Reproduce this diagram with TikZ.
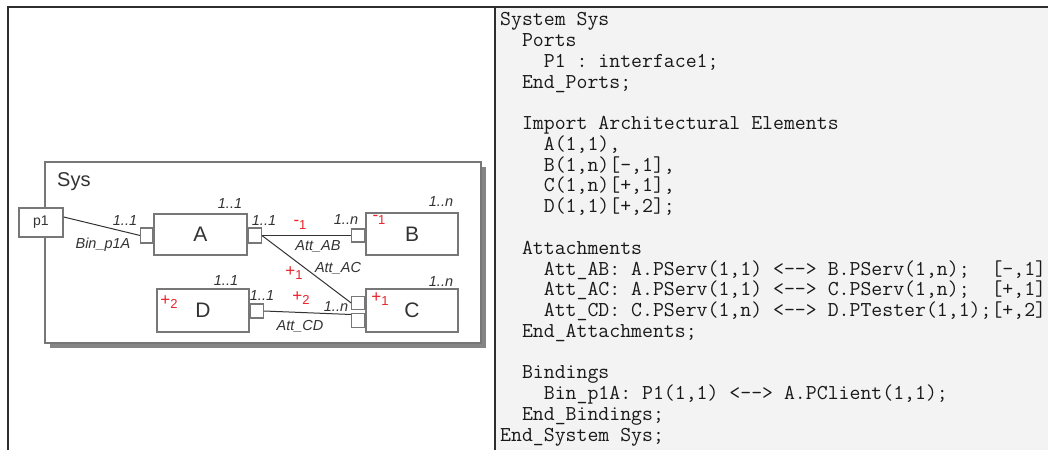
\documentclass[tikz,border=0pt]{standalone}
\usepackage{fontspec}
\setmainfont{Liberation Sans}
\usetikzlibrary{shadows}
\definecolor{labgray}{HTML}{333333}
\definecolor{boxgray}{HTML}{777777}
\definecolor{markred}{HTML}{E8232B}
\definecolor{panelbg}{HTML}{F2F3F2}
\definecolor{framegray}{HTML}{2E2E2E}
\newcommand{\mk}[2]{{\fontsize{17}{17}\selectfont #1}\raisebox{-3.5pt}{\fontsize{13}{13}\selectfont #2}}
\tikzset{
	comp/.style={draw=boxgray,line width=1.4pt,fill=white,minimum width=92pt,minimum height=42pt,inner sep=0pt,text=labgray,font=\fontsize{21}{21}\selectfont},
	port/.style={draw=boxgray,line width=1.2pt,fill=white,minimum width=13pt,minimum height=14pt,inner sep=0pt},
	mult/.style={text=labgray,inner sep=0pt,font=\fontsize{14.5}{14.5}\selectfont\itshape},
	redmark/.style={text=markred,inner sep=0pt},
	wire/.style={draw=labgray,line width=1pt},
	codeline/.style={anchor=base west,inner sep=0pt,text=black!90,font=\ttfamily\fontsize{21.2}{20.75}\selectfont\frenchspacing}
}
\begin{document}
\begin{tikzpicture}[x=1pt,y=1pt]
	\useasboundingbox (0,0) rectangle (1048,450);
	\fill[panelbg] (496,0) rectangle (1048,443);
	\draw[framegray,line width=1.6pt] (8,0) -- (8,443) -- (1048,443);
	\draw[framegray,line width=1.4pt] (495,0) -- (495,443);

	\node[draw=boxgray,line width=1.6pt,fill=white,minimum width=436pt,minimum height=181pt,drop shadow={shadow xshift=5pt,shadow yshift=-5pt,fill=boxgray!90,opacity=1}] (sys) at (263,197.5) {};
	\node[anchor=west,inner sep=0pt,text=labgray,font=\fontsize{20}{20}\selectfont] (sysname) at (57,268) {Sys};
	\node[draw=boxgray,line width=1.4pt,fill=white,minimum width=44pt,minimum height=29pt,inner sep=0pt,text=labgray,font=\fontsize{14}{14}\selectfont] (p1) at (41,227.5) {p1};

	\node[comp,minimum width=93pt,minimum height=41pt] (A) at (200.5,215.5) {A};
	\node[comp] (B) at (412,216) {B};
	\node[comp,minimum height=43pt] (C) at (412,139.5) {C};
	\node[comp,minimum height=43pt] (D) at (203,139.5) {D};

	\node[port,anchor=east,minimum width=12pt,minimum height=15pt] (pAl) at ([yshift=-1pt]A.west) {};
	\node[port,anchor=west,minimum height=15pt] (pAr) at ([yshift=-1pt]A.east) {};
	\node[port,anchor=east,minimum height=13pt] (pB) at ([yshift=-1.5pt]B.west) {};
	\node[port,anchor=south east,minimum height=13pt] (pCa) at ([yshift=0.5pt]C.west) {};
	\node[port,anchor=north east] (pCb) at ([yshift=-2.5pt]C.west) {};
	\node[port,anchor=west] (pD) at ([yshift=-0.5pt]D.east) {};

	\draw[wire] ([yshift=5.5pt]p1.east) -- (pAl.west);
	\draw[wire,line width=1.6pt] (pAr.east) -- (pB.west);
	\draw[wire] (pAr.east) -- (pCa.west);
	\draw[wire] (pD.east) -- ([yshift=-1.5pt]pCb.north west);

	\node[mult] (mAtop) at (230,246) {1..1};
	\node[mult] (mAl) at (125,229) {1..1};
	\node[mult] (binlab) at (103,205) {Bin\_p1A};
	\node[mult] (mAr) at (264,229) {1..1};
	\node[mult] (mBtop) at (441,248) {1..n};
	\node[mult] (mBl) at (346,230) {1..n};
	\node[redmark] (rAB) at (300,225) {\mk{-}{1}};
	\node[redmark] (rB) at (379,230) {\mk{-}{1}};
	\node[mult] (attab) at (318,204) {Att\_AB};
	\node[redmark] (rAC) at (294,177) {\mk{+}{1}};
	\node[mult] (attac) at (338,182) {Att\_AC};
	\node[mult] (mCtop) at (441,168) {1..n};
	\node[redmark] (rC) at (380,151) {\mk{+}{1}};
	\node[mult] (mCl) at (336,143) {1..n};
	\node[mult] (mDtop) at (226,169) {1..1};
	\node[redmark] (rD) at (169,148) {\mk{+}{2}};
	\node[mult] (mDr) at (262,154) {1..1};
	\node[redmark] (rCD) at (301,152) {\mk{+}{2}};
	\node[mult] (attcd) at (300,124) {Att\_CD};

	\foreach \txt [count=\i] in {
		{System Sys},
		{~~Ports},
		{~~~~P1 : interface1;},
		{~~End\_Ports;},
		{},
		{~~Import Architectural Elements},
		{~~~~A(1,1),},
		{~~~~B(1,n)[-,1],},
		{~~~~C(1,n)[+,1],},
		{~~~~D(1,1)[+,2];},
		{},
		{~~Attachments},
		{~~~~Att\_AB: A.PServ(1,1) <-{}-> B.PServ(1,n);~~[-,1]},
		{~~~~Att\_AC: A.PServ(1,1) <-{}-> C.PServ(1,n);~~[+,1]},
		{~~~~Att\_CD: C.PServ(1,n) <-{}-> D.PTester(1,1);[+,2]},
		{~~End\_Attachments;},
		{},
		{~~Bindings},
		{~~~~Bin\_p1A: P1(1,1) <-{}-> A.PClient(1,1);},
		{~~End\_Bindings;},
		{End\_System Sys;}}
		\node[codeline] (code\i) at (500,{424-20.75*(\i-1)}) {\txt};
\end{tikzpicture}
\end{document}
